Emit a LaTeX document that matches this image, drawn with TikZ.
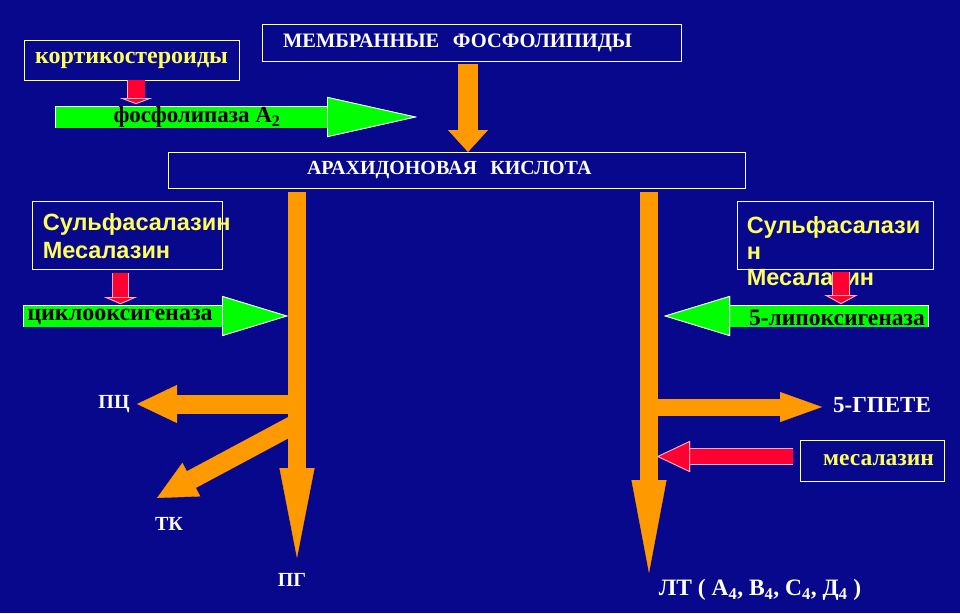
\documentclass[tikz,border=0pt]{standalone}
\usepackage{fontspec}
\setmainfont{Liberation Serif}
\setsansfont{Liberation Sans}
\usetikzlibrary{arrows.meta}
\definecolor{slide}{RGB}{8,8,140}
\definecolor{flowor}{RGB}{255,153,0}
\definecolor{enzgreen}{RGB}{0,255,0}
\definecolor{blockred}{RGB}{255,0,51}
\definecolor{rededge}{RGB}{255,175,195}
\definecolor{drugyellow}{RGB}{255,255,90}

\begin{document}
\begin{tikzpicture}[x=1pt,y=-1pt,
  panel/.style={draw=white,line width=0.8pt,inner sep=0pt},
  headtxt/.style={text=white,font=\bfseries\fontsize{#1}{#1}\selectfont},
  drug/.style={text=drugyellow,font=\bfseries\fontsize{#1}{#1}\selectfont},
  drugsans/.style={text=drugyellow,inner sep=0pt,anchor=north west,align=left,
    font=\sffamily\bfseries\fontsize{23.5}{#1}\selectfont},
  enzlbl/.style={text=black,inner sep=0pt,font=\bfseries\fontsize{#1}{#1}\selectfont},
  lbl/.style={text=white,inner sep=1pt,font=\bfseries\fontsize{#1}{#1}\selectfont},
  flow/.style n args={3}{draw=flowor,line width=#1,
    -{Triangle[length=#2,width=#3,line width=0.4pt]}},
  enz/.style={draw=enzgreen,line width=21pt,
    preaction={draw=white,line width=22.6pt,shorten <=-0.8pt},
    -{Triangle[length=#1,width=40pt,fill=enzgreen,color=white,line width=0.8pt]}},
  inhib/.style n args={3}{draw=blockred,line width=#1,
    preaction={draw=rededge,line width=#1+1.4pt},
    -{Triangle[length=#2,width=#3,fill=blockred,color=rededge,line width=0.8pt]}}]

  \fill[slide] (0,0) rectangle (960,613);

  % boxes
  \node[panel,headtxt=20.5,minimum width=419pt,minimum height=37pt,
    text width=377pt,inner xsep=21pt,align=left] (memb) at (471.5,42.5) {МЕМБРАННЫЕ\ \ ФОСФОЛИПИДЫ};
  \node[panel,headtxt=20,minimum width=577pt,minimum height=36pt,
    text width=299pt,inner xsep=139pt,align=left] (arach) at (456.5,170) {АРАХИДОНОВАЯ\ \ КИСЛОТА};
  \node[panel,drug=24,minimum width=215pt,minimum height=40pt] (kort) at (131.5,60) {кортикостероиды};
  \node[panel,minimum width=190pt,minimum height=68pt] (sulfl) at (127,235) {};
  \node[drugsans=28,xshift=11pt,yshift=-13pt] (sulfl-t) at (sulfl.north west) {Сульфасалазин\\Месалазин};
  \node[panel,minimum width=196pt,minimum height=68pt] (sulfr) at (835,235) {};
  \node[drugsans=26,xshift=10pt,yshift=-16pt] (sulfr-t) at (sulfr.north west) {Сульфасалази\\н\\Месалазин};
  \node[panel,drug=23.5,minimum width=144pt,minimum height=41pt,
    text width=124pt,align=right] (mesal) at (872,460.5) {месалазин};

  % end points
  \coordinate (arach-in) at (468,152);
  \coordinate (pg-tip) at (297,558);
  \coordinate (lt-tip) at (649,573);
  \coordinate (cox-split) at (297,404);
  \coordinate (tk-split) at (297,423);
  \coordinate (lox-split) at (649,407);
  \coordinate (pc-tip) at (137,404);
  \coordinate (tk-tip) at (157,498);
  \coordinate (hpete-tip) at (822,407);
  \coordinate (pla-s) at (56,117);
  \coordinate (pla-e) at (417,117);
  \coordinate (cox-s) at (24,316);
  \coordinate (cox-e) at (288,316);
  \coordinate (lox-s) at (928,316);
  \coordinate (lox-e) at (664,316);
  \coordinate (kort-in) at (136,104);
  \coordinate (cox-in) at (120.5,304);
  \coordinate (lox-in) at (841,304);
  \coordinate (lt-in) at (657,456.5);

  % pathway
  \draw[flow={20pt}{22pt}{40pt},shorten <=3pt] (memb.south -| arach-in) -- (arach-in);
  \draw[flow={18pt}{90pt}{35pt},shorten <=4pt] (arach.south -| pg-tip) -- (pg-tip);
  \draw[flow={18pt}{93pt}{35pt},shorten <=4pt] (arach.south -| lt-tip) -- (lt-tip);
  \draw[flow={19pt}{40pt}{38pt}] (cox-split) -- (pc-tip);
  \draw[flow={19pt}{39pt}{38pt}] (tk-split) -- (tk-tip);
  \draw[flow={17pt}{42pt}{30pt}] (lox-split) -- (hpete-tip);

  % enzymes
  \draw[enz=90pt] (pla-s) -- (pla-e);
  \draw[enz=66pt] (cox-s) -- (cox-e);
  \draw[enz=66pt] (lox-s) -- (lox-e);
  \node[enzlbl=23] (pla) at (197,117) {фосфолипаза А\textsubscript{2}};
  \node[enzlbl=24] (cox) at (120,317) {циклооксигеназа};
  \node[enzlbl=23.5] (lox) at (837,318) {5-липоксигеназа};

  % inhibitors
  \draw[inhib={17pt}{6pt}{32pt}] (kort.south -| kort-in) -- (kort-in);
  \draw[inhib={15pt}{7pt}{33pt},shorten <=4pt] (sulfl.south -| cox-in) -- (cox-in);
  \draw[inhib={16pt}{9pt}{33pt},shorten <=3pt] (sulfr.south -| lox-in) -- (lox-in);
  \draw[inhib={15pt}{33pt}{31pt},shorten <=7pt] (mesal.west |- lt-in) -- (lt-in);

  % products
  \node[lbl=20] (pc) at (114,404) {ПЦ};
  \node[lbl=20] (tk) at (169,524) {ТК};
  \node[lbl=20] (pg) at (292,580) {ПГ};
  \node[lbl=23] (hpete) at (882,405) {5-ГПЕТЕ};
  \node[lbl=23.5] (lt) at (760,590) {ЛТ ( А\textsubscript{4}, В\textsubscript{4}, С\textsubscript{4}, Д\textsubscript{4} )};
\end{tikzpicture}
\end{document}
